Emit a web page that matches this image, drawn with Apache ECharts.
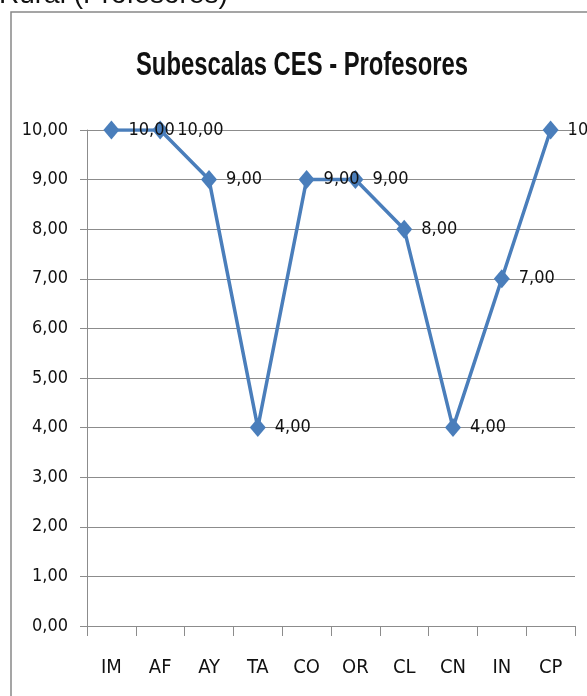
<!DOCTYPE html>
<html>
<head>
<meta charset="utf-8">
<script src="https://cdn.jsdelivr.net/npm/echarts@6/dist/echarts.min.js"></script>
<style>
  html, body { margin: 0; padding: 0; background: #fff; }
  #chart { width: 587px; height: 696px; }
</style>
</head>
<body>
<div id="chart"></div>
<script>
// subescalas (eje X) y puntuaciones medias de profesores
const categories = ['IM', 'AF', 'AY', 'TA', 'CO', 'OR', 'CL', 'CN', 'IN', 'CP']
const values = [10, 10, 9, 4, 9, 9, 8, 4, 7, 10]
const yTicks = { min: 0, max: 10, interval: 1 }

const lineBlue = '#4a7ebb'
const axisGray = '#8c8c8c'
const narrow = '"DejaVu Sans Condensed", "Liberation Sans Narrow", sans-serif'

// formato con coma decimal, como en el original
const fmt = (v) => Number(v).toFixed(2).replace('.', ',')

const chart = echarts.init(document.getElementById('chart'))

chart.setOption({
  animation: false,
  backgroundColor: '#fff',
  graphic: [
    // texto de la página cortado por arriba
    {
      type: 'text', x: -1, y: -19,
      style: { text: 'Rural (Profesores)', font: '28px "Liberation Sans", Arial, sans-serif', fill: '#111' }
    },
    // marco del gráfico (cortado a la derecha y abajo)
    {
      type: 'rect', silent: true,
      shape: { x: 11, y: 12, width: 620, height: 720 },
      style: { fill: 'none', stroke: '#888', lineWidth: 1.5 }
    },
    // título: letra estrecha y alta como en el original
    {
      type: 'text', x: 302, y: 66, scaleX: 0.7,
      style: {
        text: 'Subescalas CES - Profesores',
        font: 'bold 34px "Liberation Sans", Arial, sans-serif',
        fill: '#111', align: 'center', verticalAlign: 'middle'
      }
    }
  ],
  grid: { left: 87, right: 12, top: 130, bottom: 70 },
  xAxis: {
    type: 'category',
    data: categories,
    boundaryGap: true,
    axisLine: { lineStyle: { color: axisGray, width: 1 } },
    axisTick: { show: true, length: 10, lineStyle: { color: axisGray } },
    axisLabel: { margin: 32, fontFamily: narrow, fontSize: 20, color: '#111' }
  },
  yAxis: {
    type: 'value',
    min: yTicks.min, max: yTicks.max, interval: yTicks.interval,
    axisLine: { show: true, lineStyle: { color: axisGray, width: 1 } },
    axisTick: { show: true, inside: false, length: 7, lineStyle: { color: axisGray } },
    splitLine: { lineStyle: { color: axisGray, width: 1 } },
    axisLabel: { margin: 19, fontFamily: narrow, fontSize: 18, color: '#111', formatter: fmt }
  },
  series: [{
    type: 'line',
    data: values,
    symbol: 'diamond',
    symbolSize: [16, 19],
    lineStyle: { color: lineBlue, width: 3.5 },
    itemStyle: { color: lineBlue },
    label: {
      show: true, position: 'right', distance: 9,
      fontFamily: narrow, fontSize: 18, color: '#111',
      formatter: (p) => fmt(p.value)
    }
  }]
})
</script>
</body>
</html>
